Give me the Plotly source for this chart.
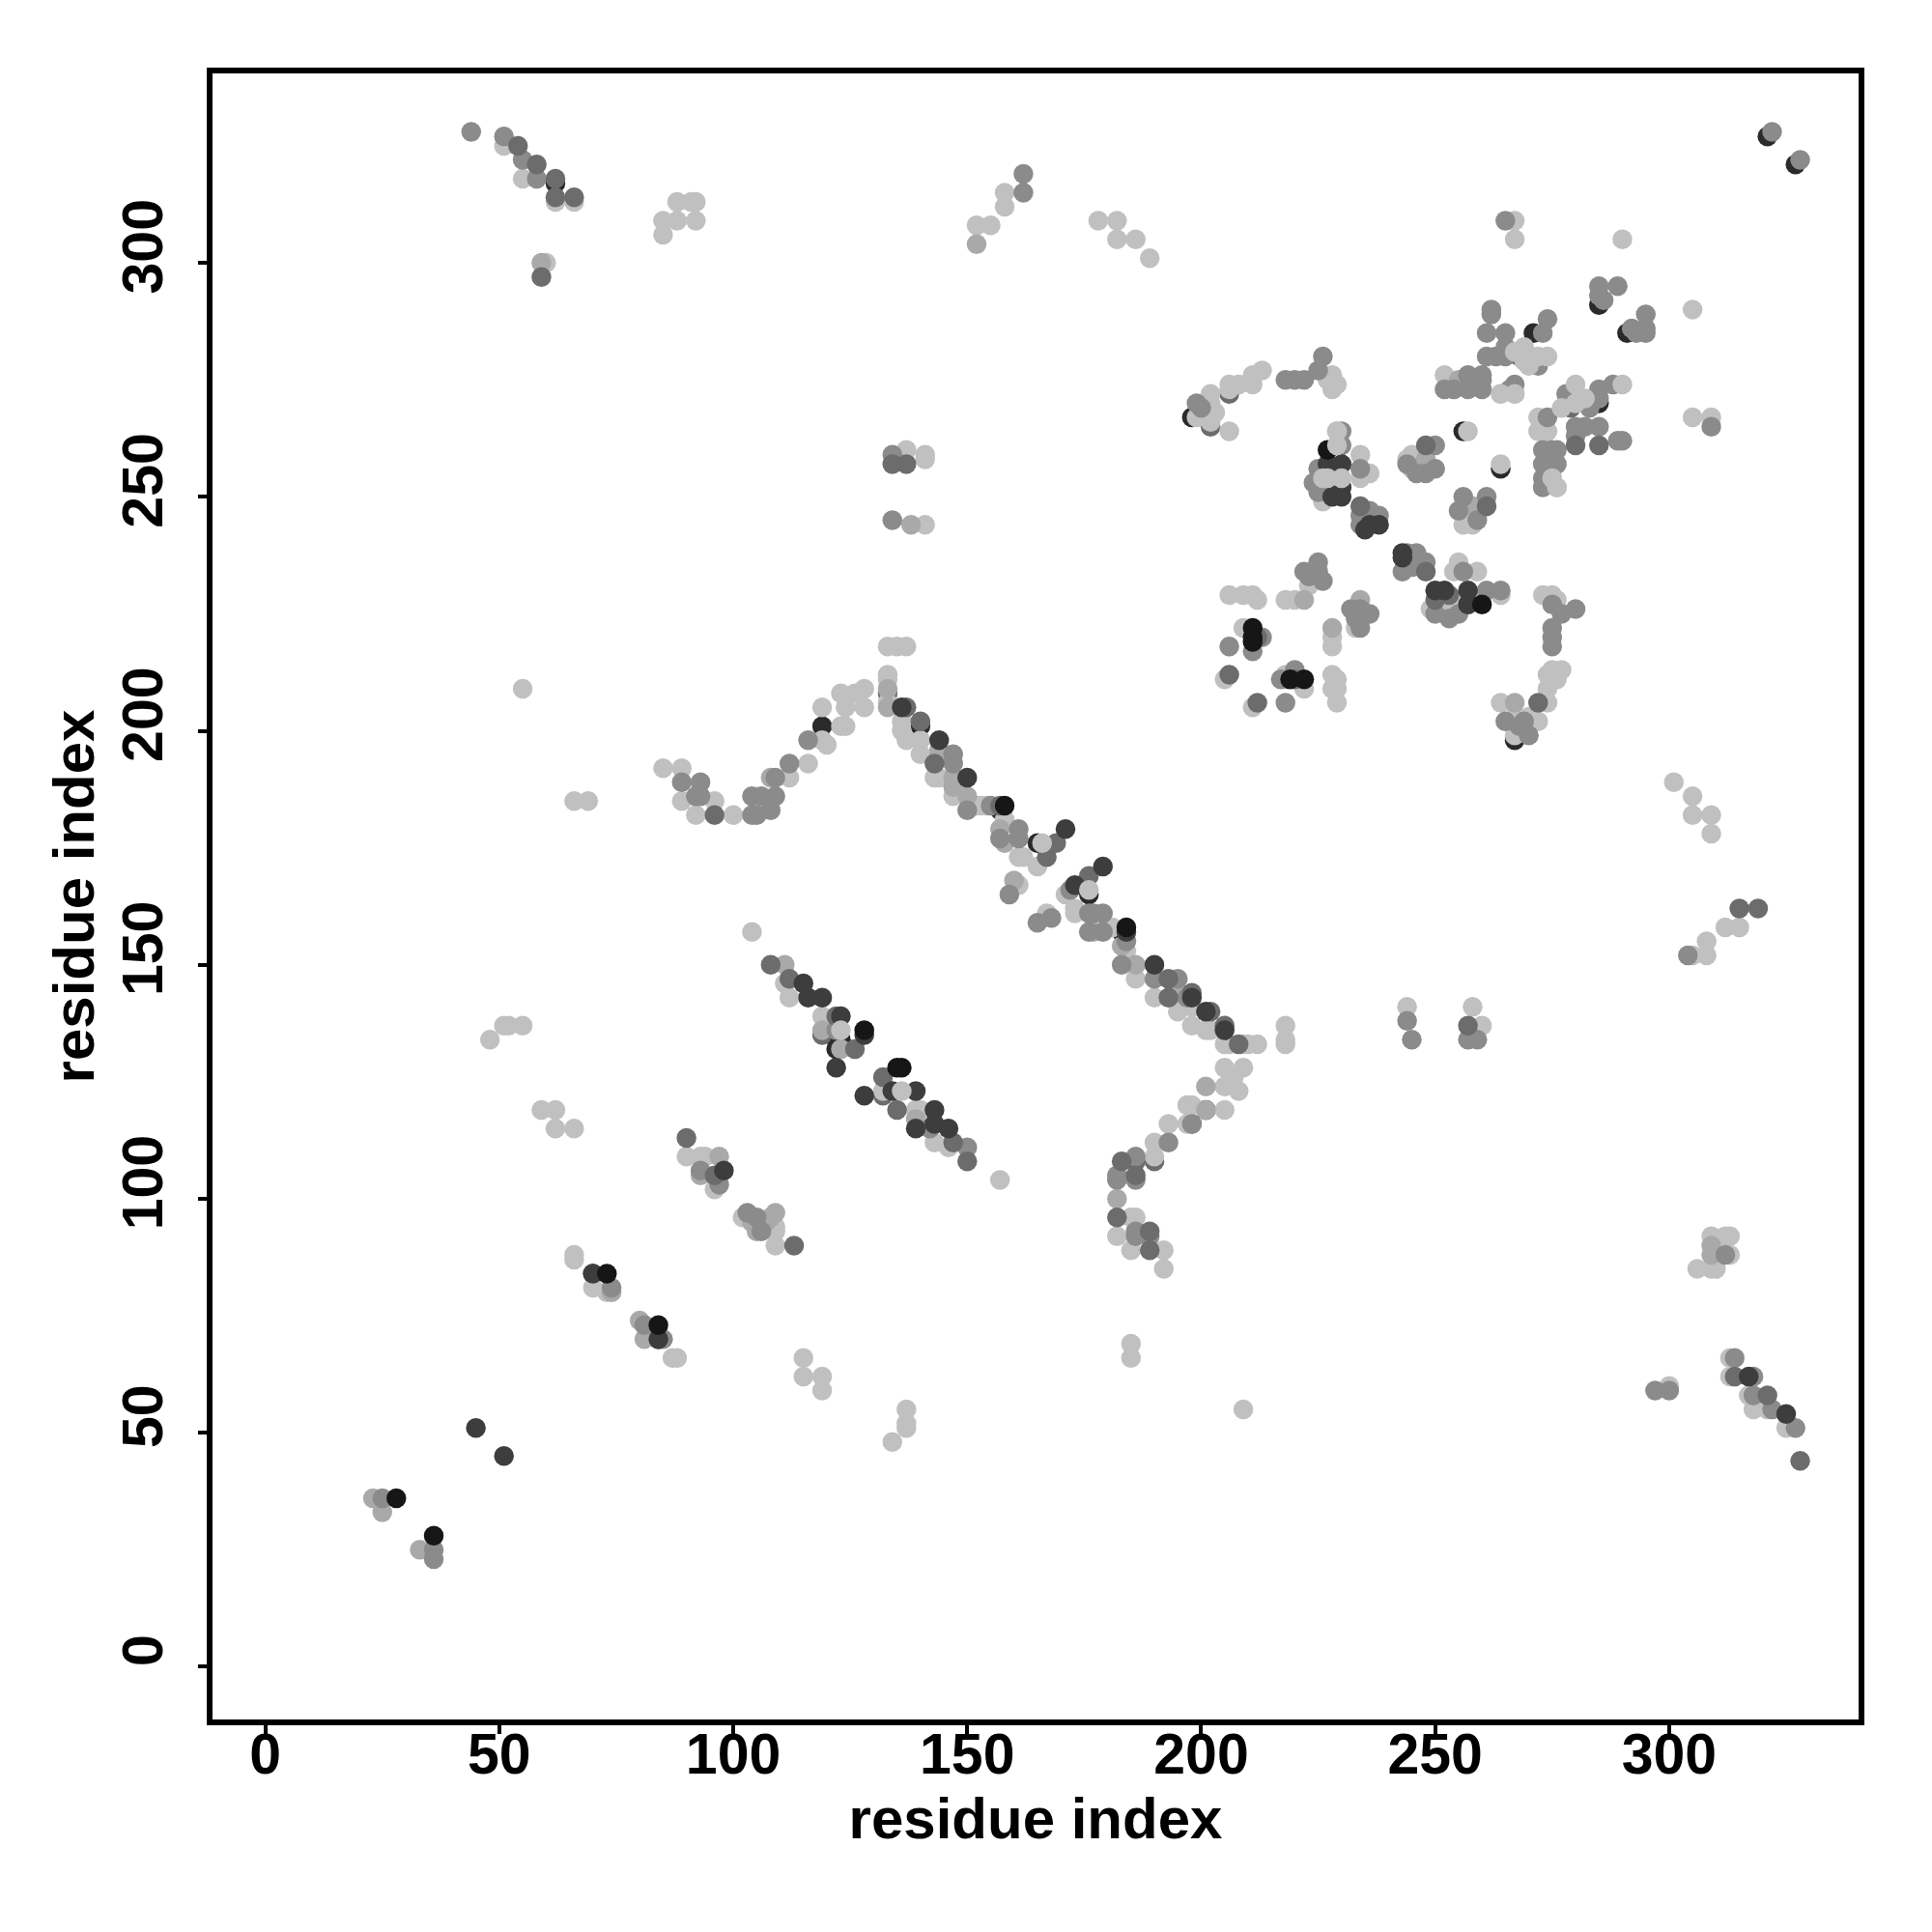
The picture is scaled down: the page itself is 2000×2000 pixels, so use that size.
import plotly.graph_objects as go

tick_values = [0, 50, 100, 150, 200, 250, 300]
axis_label = "residue index"

# residue pairs (i, j) grouped by shade; drawn in this order
under_dark = [(198,267),(285,291),(285,270),(256,264),(264,256),(176,165),(165,176),(157,183),(183,157),
              (291,285),(271,285),(321,327),(327,321),(201,119),(267,198),(62,317),(70,84),(84,70),(140,201),
              (122,134),(123,134),(251,227),(226,252),(122,132),(119,201)]
under_mid = [(206,272),(202,265),(268,280),(279,269),(133,208),(190,108),(186,108),(119,135),(132,122),(198,116),(318,57)]
light = [(51,325),(55,318),(62,313),(66,313),(60,300),(85,309),(85,306),(88,309),(88,313),(91,313),(92,313),(92,309),
         (152,308),(155,308),(158,315),(158,312),(178,309),(182,309),(182,305),(186,305),(189,301),(267,309),(267,305),(290,305),
         (213,277),(211,276),(211,274),(208,274),(206,274),(206,273),(202,272),(202,270),(199,267),(202,267),(202,266),(206,264),(203,268),
         (227,275),(228,276),(228,273),(229,274),(252,276),(264,272),(267,272),(272,267),(272,264),(274,264),(273,266),(275,254),(276,252),(226,249),(234,259),(236,255),(234,254),(244,258),(245,259),(245,256),
         (259,246),(258,244),(256,244),(255,236),(254,234),(259,234),(206,229),(209,229),(211,229),(212,228),(218,228),(220,228),(223,231),
         (233,222),(228,220),(228,218),(209,222),(218,212),(205,211),(222,209),(218,211),(228,212),(229,211),(228,209),(229,209),(229,206),(211,205),
         (249,226),(254,227),(252,226),(255,228),(260,229),(264,229),(273,229),(275,229),(276,228),(277,213),(275,213),(274,212),(276,211),(274,209),(274,206),
         (264,206),(267,203),(270,203),(272,202),(267,199),(133,218),(135,218),(137,218),(133,212),(133,211),(133,206),(136,202),(136,200),(137,198),(140,198),
         (140,195),(143,190),(144,190),(147,186),(153,184),(154,184),(152,184),(158,181),(161,173),(162,173),(161,167),(165,171),(171,165),(173,162),(173,161),
         (181,158),(167,161),(184,153),(186,147),(190,143),(195,140),(198,141),(198,137),(201,136),(202,136),(205,133),(206,133),(209,133),(212,133),(210,133),
         (218,137),(218,134),(218,133),(244,141),(258,141),(260,137),(104,157),(111,146),(112,143),(119,139),(132,123),(139,119),(140,119),(143,112),(146,111),(157,104),
         (90,109),(93,109),(94,109),(96,102),(102,96),(109,94),(109,93),(109,90),(205,128),(209,128),(207,126),(205,124),(208,123),(197,120),(198,120),(205,119),(197,116),
         (193,116),(190,112),(190,109),(185,96),(186,96),(182,92),(185,89),(192,89),(192,85),(59,119),(62,119),(62,115),(66,115),(66,88),(66,87),(70,81),(73,80),
         (87,66),(88,66),(115,66),(115,62),(119,62),(119,59),(137,55),(137,52),(137,51),(134,48),(48,134),(51,137),(52,137),(55,137),(55,209),(66,185),(69,185),
         (85,192),(89,192),(89,185),(92,182),(96,185),(100,182),(112,190),(116,193),(119,198),(120,197),(119,205),(123,201),(123,208),(124,201),(124,205),(126,208),(128,205),(128,209),
         (301,189),(305,186),(305,182),(309,182),(309,178),(312,158),(315,158),(308,155),(305,152),(308,152),(305,267),(309,267),(305,290),(309,92),(313,92),(312,92),(313,88),(306,85),(309,85),(310,85),
         (313,66),(313,62),(317,58),(318,55),(321,55),(325,51),(300,60),(185,69),(185,66),(209,55),(137,260),(141,259),(141,258),(141,244)]
mid_light = [(59,300),(152,304),(255,275),(248,258),(258,248),(222,228),(234,228),(228,222),(267,206),(133,209),(133,205),
             (144,196),(144,195),(147,190),(147,188),(150,186),(157,179),(158,176),(160,168),(177,157),(183,154),(186,150),(195,144),(111,150),(119,136),(97,109),(93,105),
             (109,97),(105,93),(201,124),(201,119),(182,100),(23,36),(25,33),(33,25),(80,74),(81,70),(74,80),(123,132),(139,117),(138,244),(309,88),(309,90),(108,190),(107,95),(108,96),(104,95)]
mid = [(44,328),(51,327),(55,322),(58,318),(162,319),(162,315),(265,309),(285,295),(289,295),(285,293),(286,292),(295,289),(292,286),(295,286),(295,285),(293,285),
       (262,290),(262,289),(274,288),(261,285),(265,285),(273,285),(265,282),(261,280),(265,280),(263,280),(272,278),(199,270),(200,269),(218,275),(220,275),(222,275),
       (226,280),(225,277),(252,273),(254,273),(257,276),(257,273),(260,276),(260,273),(260,275),(267,274),(266,273),(278,272),(285,273),(285,271),(288,274),(283,269),
       (280,265),(282,265),(285,265),(289,262),(290,262),(280,263),(274,267),(273,260),(275,260),(276,260),(273,257),(276,257),(275,258),(273,254),(273,252),(230,264),(230,261),(224,253),(225,256),(225,251),
       (234,256),(250,261),(244,257),(250,256),(248,255),(246,255),(236,247),(238,246),(234,244),(236,245),(234,246),(256,250),(261,250),(255,247),(259,245),(246,238),(243,234),(246,236),(248,236),(244,238),(245,235),(244,236),(247,235),
       (256,234),(222,234),(225,236),(223,233),(226,232),(225,234),(232,226),(236,225),(234,226),(234,222),(233,224),(213,220),(211,217),(206,218),(217,211),(220,213),(218,206),
       (261,230),(264,230),(250,225),(253,224),(255,225),(275,227),(277,225),(280,226),(275,222),(275,220),(275,218),(265,202),(269,202),(270,199),(268,201),
       (147,195),(147,193),(150,183),(155,184),(161,179),(157,177),(161,177),(159,165),(172,166),(176,161),(179,161),(177,161),(176,157),(179,157),(168,160),(165,159),
       (184,155),(183,150),(190,147),(195,147),(197,143),(245,134),(244,138),(257,134),(259,134),(122,136),(142,115),(150,111),(93,106),(97,103),(103,97),(105,96),(106,93),
       (74,81),(81,73),(85,70),(193,112),(186,109),(198,116),(182,105),(182,104),(186,104),(186,93),(186,92),(189,92),(25,36),(36,25),(36,23),(89,189),(93,189),(92,186),(93,186),
       (104,182),(105,182),(104,186),(106,186),(108,183),(109,186),(109,190),(112,193),(116,198),(309,265),(304,152),(312,88),(314,66),(318,62),(318,58),(322,55),(327,51),(297,59),(300,59),(134,259),(134,245),(322,328),(328,322)]
dark = [(54,325),(58,321),(62,318),(62,314),(66,314),(59,297),(280,261),(285,261),(248,261),(234,248),(261,248),
        (248,234),(212,220),(206,212),(220,211),(212,206),(250,228),(253,229),(272,206),(137,205),(140,202),(143,193),(169,176),(167,173),(176,169),(193,147),(193,143),(198,144),
        (202,140),(205,137),(208,133),(257,137),(108,150),(112,147),(122,139),(126,132),(132,126),(135,119),(147,112),(150,108),(90,113),(96,105),(113,90),
        (183,108),(186,105),(182,96),(189,93),(189,89),(96,182),(315,162),(319,162),(314,62),(321,58),(328,44),(134,257),(137,257),(157,184)]
very_dark = [(230,257),(227,257),(229,256),(229,253),(230,252),(230,250),(228,250),(238,244),(236,244),(235,243),(243,237),(243,238),(250,230),(252,230),(257,230),(257,227),(136,205),(144,198),
             (150,190),(171,179),(179,171),(173,167),(184,157),(190,150),(198,143),(201,140),(205,136),(115,146),(116,143),(119,143),(123,139),(128,135),(122,128),(128,122),(134,123),
             (139,123),(143,119),(143,116),(139,115),(146,115),(98,106),(70,84),(84,70),(45,51),(51,45),(317,62),(325,54)]
near_black = [(227,260),(211,222),(211,220),(211,219),(219,211),(222,211),(260,227),(158,184),(184,158),(128,136),(136,128),(135,128),(73,84),(84,73),(28,36),(36,28)]
top_light = [(230,254),(229,264),(229,261),(227,254),(226,254),(123,136),(136,123),(257,264),(264,257),(166,176),(176,166),(229,264),
             (269,282),(269,279),(270,278),(267,281),(272,280),(274,280),(280,274),(277,269),(280,270),(282,271),(290,274),(264,272),(267,272),(275,254),(276,252)]

groups = [(under_dark, "#2a2a2a"), (under_mid, "#6c6c6c"), (light, "#c0c0c0"), (mid_light, "#a9a9a9"), (mid, "#8b8b8b"),
          (dark, "#6c6c6c"), (very_dark, "#3d3d3d"), (near_black, "#161616"), (top_light, "#c0c0c0")]

fig = go.Figure()
for pairs, colour in groups:
    fig.add_trace(go.Scatter(x=[p[0] for p in pairs], y=[p[1] for p in pairs], mode="markers",
                             marker=dict(size=20.5, color=colour, line=dict(width=0)), showlegend=False))

TICK_FONT = dict(family="Liberation Sans", size=59, color="black", weight="bold")
TITLE_FONT = dict(family="Liberation Sans", size=60, color="black", weight="bold")
axis = dict(range=[-11.28, 340.48], tickvals=tick_values, ticktext=[str(t) for t in tick_values], showgrid=False, zeroline=False,
            showline=True, mirror=True, linecolor="black", linewidth=6, ticks="outside", ticklen=9, tickwidth=4,
            tickcolor="black", tickfont=TICK_FONT)
fig.update_layout(width=2000, height=2000, margin=dict(l=220, r=76, t=76, b=220, autoexpand=False),
                  paper_bgcolor="white", plot_bgcolor="white",
                  xaxis=dict(axis, ticklabelstandoff=-30, title=dict(text=axis_label, font=TITLE_FONT, standoff=13)),
                  yaxis=dict(axis, tickangle=-90, ticklabelstandoff=13, ticklabelshift=-8, title=dict(text=axis_label, font=TITLE_FONT, standoff=0)))
fig.write_html("out.html", config=dict(displayModeBar=False), post_script="document.body.style.margin='0';")
